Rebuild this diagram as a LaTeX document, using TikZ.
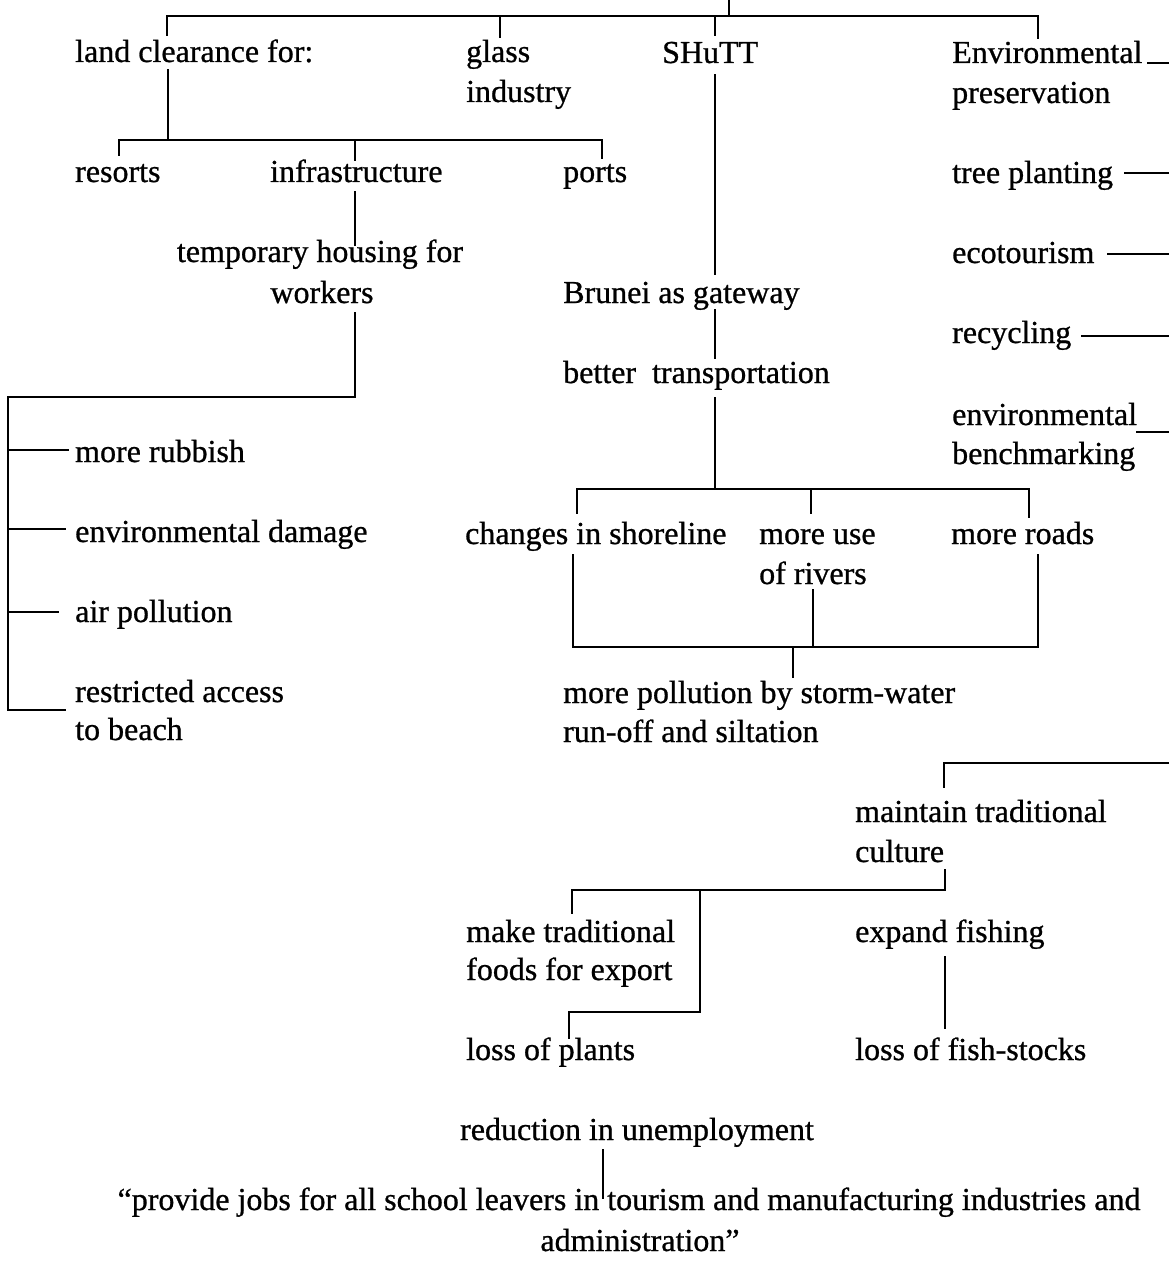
\documentclass[tikz,border=0pt]{standalone}
\usepackage{fontspec}
\setmainfont[FakeBold=0.8]{Liberation Serif}
\newcommand\labelfont{\fontsize{32}{40}\selectfont}
\begin{document}
\begin{tikzpicture}[x=1pt,y=-1pt,
  lbl/.style={anchor=base west, inner sep=0pt, font=\labelfont},
  ctr/.style={anchor=base, inner sep=0pt, font=\labelfont},
  link/.style={line width=2.2pt, line cap=rect, line join=miter}]
\useasboundingbox (0,0) rectangle (1169,1268);

% ---- labels ----
\node[lbl] (land)    at (75,62)   {land clearance for:};
\node[lbl] (glassA)  at (466,62)  {glass};
\node[lbl] (glassB)  at (466,102) {industry};
\node[lbl] (shutt)   at (662,63)  {SHuTT};
\node[lbl] (envA)    at (952,63)  {Environmental};
\node[lbl] (envB)    at (952,103) {preservation};
\node[lbl] (resorts) at (75,182)  {resorts};
\node[lbl] (infra)   at (270,182) {infrastructure};
\node[lbl] (ports)   at (563,182) {ports};
\node[lbl] (tree)    at (952,183) {tree planting};
\node[ctr] (tempA)   at (320,262) {temporary housing for};
\node[ctr] (tempB)   at (322,303) {workers};
\node[lbl] (eco)     at (952,263) {ecotourism};
\node[lbl] (brunei)  at (563,303) {Brunei as gateway};
\node[lbl] (recyc)   at (952,343) {recycling};
\node[lbl] (better)  at (563,383) {better\ \ transportation};
\node[lbl] (benchA)  at (952,425) {environmental};
\node[lbl] (benchB)  at (952,464) {benchmarking};
\node[lbl] (rubbish) at (75,462)  {more rubbish};
\node[lbl] (damage)  at (75,542)  {environmental damage};
\node[lbl] (air)     at (75,622)  {air pollution};
\node[lbl] (restrA)  at (75,702)  {restricted access};
\node[lbl] (restrB)  at (75,740)  {to beach};
\node[lbl] (shore)   at (465,544) {changes in shoreline};
\node[lbl] (riverA)  at (759,544) {more use};
\node[lbl] (riverB)  at (759,584) {of rivers};
\node[lbl] (roads)   at (951,544) {more roads};
\node[lbl] (pollA)   at (563,703) {more pollution by storm-water};
\node[lbl] (pollB)   at (563,742) {run-off and siltation};
\node[lbl] (maintA)  at (855,822) {maintain traditional};
\node[lbl] (maintB)  at (855,862) {culture};
\node[lbl] (foodA)   at (466,942) {make traditional};
\node[lbl] (foodB)   at (466,980) {foods for export};
\node[lbl] (fish)    at (855,942) {expand fishing};
\node[lbl] (plants)  at (466,1060) {loss of plants};
\node[lbl] (stocks)  at (855,1060) {loss of fish-stocks};
\node[ctr] (redu)    at (637,1140) {reduction in unemployment};
\node[ctr] (jobsA)   at (629,1210) {“provide jobs for all school leavers in tourism and manufacturing industries and};
\node[ctr] (jobsB)   at (640,1251) {administration”};

% ---- junction points ----
\coordinate (root)   at (729,0);
\coordinate (rootJ)  at (729,16);
\coordinate (topL)   at (167,35);
\coordinate (topR)   at (1038,16);
\coordinate (topRe)  at (1038,38);
\coordinate (glassT) at (500,37);
\coordinate (shuttT) at (715,35);

\coordinate (landS)  at (168,70);
\coordinate (landJ)  at (168,140);
\coordinate (resT)   at (119,155);
\coordinate (portJ)  at (602,140);
\coordinate (portT)  at (602,158);
\coordinate (infT)   at (355,160);
\coordinate (infS)   at (355,192);
\coordinate (tempN)  at (355,245);
\coordinate (workS)  at (355,313);
\coordinate (workJ)  at (355,397);
\coordinate (spine)  at (8,397);
\coordinate (spineE) at (8,710);
\coordinate (restrE) at (65,710);
\coordinate (rubJ)   at (8,450);
\coordinate (rubE)   at (68,450);
\coordinate (dmgJ)   at (8,529);
\coordinate (dmgE)   at (65,529);
\coordinate (airJ)   at (8,612);
\coordinate (airE)   at (58,612);

\coordinate (shuttS) at (715,75);
\coordinate (bruN)   at (715,274);
\coordinate (bruS)   at (715,310);
\coordinate (betN)   at (715,358);
\coordinate (betS)   at (715,398);
\coordinate (trJ)    at (715,489);
\coordinate (shoreT) at (577,513);
\coordinate (roadJ)  at (1029,489);
\coordinate (roadT)  at (1029,517);
\coordinate (rivJ)   at (811,489);
\coordinate (rivT)   at (811,513);
\coordinate (shoreS) at (573,555);
\coordinate (roadS)  at (1038,555);
\coordinate (botR)   at (1038,647);
\coordinate (rivS)   at (813,590);
\coordinate (rivB)   at (813,647);
\coordinate (pollJ)  at (793,647);
\coordinate (pollT)  at (793,677);

\coordinate (envE)   at (1148,63);
\coordinate (envEe)  at (1169,63);
\coordinate (treeE)  at (1125,173);
\coordinate (treeEe) at (1169,173);
\coordinate (ecoE)   at (1108,254);
\coordinate (ecoEe)  at (1169,254);
\coordinate (recE)   at (1082,336);
\coordinate (recEe)  at (1169,336);
\coordinate (benE)   at (1137,432);
\coordinate (benEe)  at (1169,432);

\coordinate (maintT) at (944,787);
\coordinate (maintR) at (1169,763);
\coordinate (cultS)  at (945,870);
\coordinate (cultJ)  at (945,890);
\coordinate (fishT)  at (945,913);
\coordinate (foodT)  at (572,913);
\coordinate (stemJ)  at (700,890);
\coordinate (stemB)  at (700,1012);
\coordinate (plantJ) at (569,1012);
\coordinate (plantT) at (569,1038);
\coordinate (fishS)  at (945,957);
\coordinate (stockT) at (945,1028);
\coordinate (reduS)  at (603,1150);
\coordinate (jobsT)  at (603,1198);

% ---- connectors ----
\draw[link] (root) -- (rootJ);
\draw[link] (topL) |- (topR) -- (topRe);
\draw[link] (glassT) -- (glassT |- rootJ);
\draw[link] (shuttT) -- (shuttT |- rootJ);

\draw[link] (landS) -- (landJ);
\draw[link] (resT) |- (portJ) -- (portT);
\draw[link] (infT) -- (infT |- landJ);
\draw[link] (infS) -- (tempN);
\draw[link] (workS) -- (workJ) -- (spine) -- (spineE) -- (restrE);
\draw[link] (rubJ) -- (rubE);
\draw[link] (dmgJ) -- (dmgE);
\draw[link] (airJ) -- (airE);

\draw[link] (shuttS) -- (bruN);
\draw[link] (bruS) -- (betN);
\draw[link] (betS) -- (trJ);
\draw[link] (shoreT) |- (roadJ) -- (roadT);
\draw[link] (rivJ) -- (rivT);
\draw[link] (shoreS) |- (botR) -- (roadS);
\draw[link] (rivS) -- (rivB);
\draw[link] (pollJ) -- (pollT);

\draw[link] (envE) -- (envEe);
\draw[link] (treeE) -- (treeEe);
\draw[link] (ecoE) -- (ecoEe);
\draw[link] (recE) -- (recEe);
\draw[link] (benE) -- (benEe);

\draw[link] (maintT) |- (maintR);
\draw[link] (cultS) -- (cultJ);
\draw[link] (foodT) |- (cultJ);
\draw[link] (stemJ) -- (stemB) -- (plantJ) -- (plantT);
\draw[link] (fishS) -- (stockT);
\draw[link] (reduS) -- (jobsT);
\end{tikzpicture}
\end{document}
